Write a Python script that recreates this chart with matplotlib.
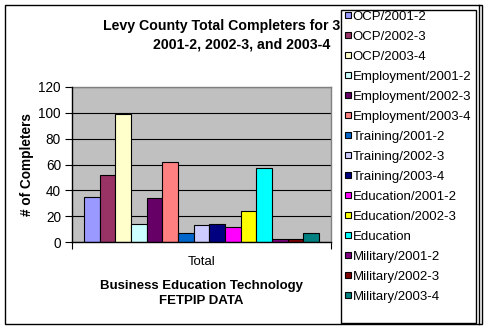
import numpy as np
import matplotlib.pyplot as plt
from matplotlib.patches import Rectangle
from matplotlib.lines import Line2D

plt.rcParams['font.family'] = ['Liberation Sans', 'DejaVu Sans']

# one bar per outcome/year, all in the single "Total" category
series = ['OCP/2001-2', 'OCP/2002-3', 'OCP/2003-4',
          'Employment/2001-2', 'Employment/2002-3', 'Employment/2003-4',
          'Training/2001-2', 'Training/2002-3', 'Training/2003-4',
          'Education/2001-2', 'Education/2002-3', 'Education',
          'Military/2001-2', 'Military/2002-3', 'Military/2003-4']
values = [35, 52, 99, 14, 34, 62, 7, 13, 14, 12, 24, 57, 2, 2, 7]
colors = ['#9999FF', '#993366', '#FFFFCC', '#CCFFFF', '#660066', '#FF8080',
          '#0066CC', '#CCCCFF', '#000080', '#FF00FF', '#FFFF00', '#00FFFF',
          '#800080', '#800000', '#008080']
category = 'Total'
y_ticks = [0, 20, 40, 60, 80, 100, 120]

W, H = 488, 330
fig = plt.figure(figsize=(W / 100, H / 100), dpi=100)
fig.patch.set_facecolor('white')


def fx(px):
    return px / W


def fy(py):
    return 1 - py / H


ax = fig.add_axes([fx(72), fy(242), fx(331) - fx(72), fy(87) - fy(242)])
ax.set_facecolor('#C0C0C0')

n = len(values)
width = 0.9075 / n
xs = -0.9075 / 2 + width * (np.arange(n) + 0.5)
for x, v, c in zip(xs, values, colors):
    ax.bar(x, v, width=width, color=c, edgecolor='black', linewidth=0.8, zorder=3)

ax.set_xlim(-0.5, 0.5)
ax.set_ylim(0, 120)
ax.set_yticks(y_ticks)
ax.set_yticklabels([str(t) for t in y_ticks], fontsize=9.8)
ax.tick_params(axis='y', length=5, width=0.8, pad=3, direction='out')
ax.set_xticks([-0.5, 0.5])
ax.set_xticklabels(['', ''])
ax.tick_params(axis='x', length=5, width=0.8, direction='out')
ax.yaxis.grid(True, color='black', linewidth=0.8, zorder=1)
ax.set_axisbelow(True)
for side in ['top', 'right']:
    ax.spines[side].set_color('#808080')
    ax.spines[side].set_linewidth(1)
for side in ['left', 'bottom']:
    ax.spines[side].set_color('black')
    ax.spines[side].set_linewidth(1)
    ax.spines[side].set_zorder(4)

ax.set_ylabel('# of Completers', fontsize=9.8, fontweight='bold')
ax.yaxis.set_label_coords((fx(34) - fx(72)) / (fx(331) - fx(72)), 0.5)

fig.text(fx(201.5), fy(262), category, ha='center', va='center', fontsize=9.5)
fig.text(fx(201), fy(293.5), 'Business Education Technology\nFETPIP DATA',
         ha='center', va='center', fontsize=9.5, fontweight='bold', linespacing=1.3)

# legend box (drawn over the right end of the title)
box = Rectangle((fx(341), fy(323)), fx(476) - fx(341), fy(10) - fy(323),
                transform=fig.transFigure, facecolor='white',
                edgecolor='black', linewidth=1, zorder=5)
fig.patches.append(box)

# chart title, cut off where the legend box starts
title = fig.text(fx(242), fy(35), 'Levy County Total Completers for 3 Years\n2001-2, 2002-3, and 2003-4',
                 ha='center', va='center', fontsize=10.2, fontweight='bold', linespacing=1.45)
clip = Rectangle((0, 0), fx(341), 1, transform=fig.transFigure, visible=False)
fig.patches.append(clip)
title.set_clip_path(clip)

handles = [Line2D([], [], marker='s', linestyle='none', markersize=4.6,
                  markerfacecolor=c, markeredgecolor='black', markeredgewidth=0.8)
           for c in colors]
leg = fig.legend(handles, series, loc='upper left',
                 bbox_to_anchor=(fx(344), fy(10.5)), frameon=False, fontsize=9.5,
                 handlelength=0.55, handletextpad=0.1, labelspacing=0.59,
                 borderpad=0, borderaxespad=0)
leg.set_zorder(6)

# outer chart border
fig.patches.append(Rectangle((fx(5), fy(324)), fx(482) - fx(5), fy(5) - fy(324),
                             transform=fig.transFigure, fill=False,
                             edgecolor='black', linewidth=1, zorder=7))
fig.lines.append(Line2D([fx(479), fx(479)], [fy(5), fy(324)],
                        transform=fig.transFigure, color='black', linewidth=1, zorder=7))

fig.savefig('out.png', dpi=100)
